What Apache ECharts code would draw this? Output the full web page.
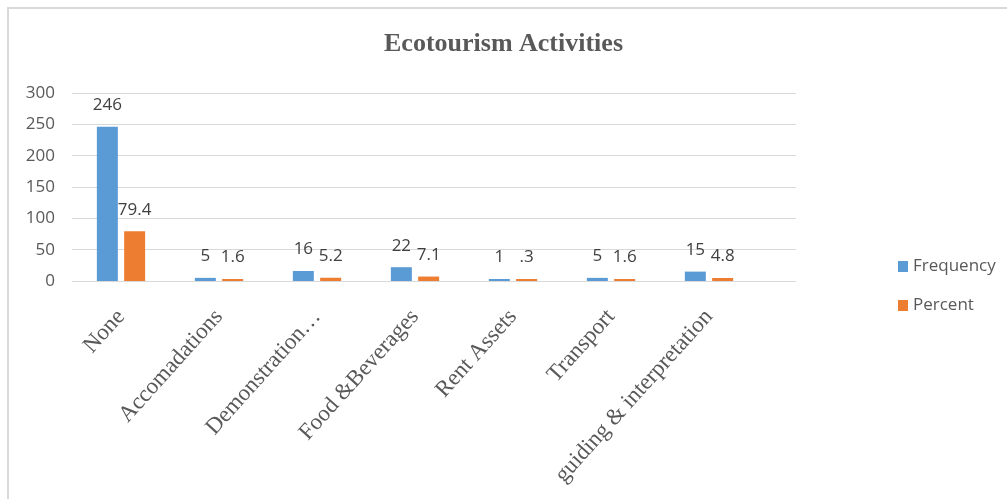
<!DOCTYPE html>
<html>
<head>
<meta charset="utf-8">
<style>
  html, body { margin: 0; padding: 0; background: #fff; }
  #chart { width: 1007px; height: 499px; }
</style>
<script src="https://cdn.jsdelivr.net/npm/echarts@6/dist/echarts.min.js"></script>
</head>
<body>
<div id="chart"></div>
<script>
const categories = ['None', 'Accomadations', 'Demonstration…', 'Food &Beverages', 'Rent Assets', 'Transport', 'guiding & interpretation'];
const frequency = [246, 5, 16, 22, 1, 5, 15];
const percent = [79.4, 1.6, 5.2, 7.1, 0.3, 1.6, 4.8];
const percentLabels = ['79.4', '1.6', '5.2', '7.1', '.3', '1.6', '4.8'];
const yTicks = { min: 0, max: 300, interval: 50 };

(function () {
  const chart = echarts.init(document.getElementById('chart'));
  const sans = "'Open Sans', sans-serif";
  const serif = "'Liberation Serif', 'Times New Roman', serif";

  const labelStyle = {
    show: true,
    position: 'top',
    distance: 13,
    color: '#404040',
    fontSize: 17,
    fontFamily: sans
  };

  chart.setOption({
    animation: false,
    title: {
      text: 'Ecotourism Activities',
      left: 'center',
      top: 26,
      textStyle: { fontFamily: serif, fontWeight: 'bold', fontSize: 26, color: '#595959' }
    },
    legend: {
      orient: 'vertical',
      left: 893,
      top: 253,
      itemWidth: 10,
      itemHeight: 11,
      itemGap: 22,
      icon: 'rect',
      textStyle: { fontFamily: sans, fontSize: 17, color: '#595959' },
      data: ['Frequency', 'Percent']
    },
    graphic: [
      {
        type: 'rect',
        shape: { x: 8, y: 8, width: 1100, height: 600 },
        style: { fill: 'none', stroke: '#d9d9d9', lineWidth: 2 },
        silent: true
      }
    ],
    grid: [
      { left: 72, top: 93, width: 686, height: 188 },
      { left: 72, top: 93, width: 724, height: 188 }
    ],
    xAxis: [
      {
        type: 'category',
        gridIndex: 0,
        data: categories,
        axisLine: { show: false },
        axisTick: { show: false },
        axisLabel: {
          interval: 0,
          rotate: 48,
          margin: 32,
          fontFamily: serif,
          fontSize: 23,
          color: '#595959'
        }
      },
      {
        type: 'category',
        gridIndex: 1,
        data: [''],
        show: false
      }
    ],
    yAxis: [
      {
        type: 'value',
        gridIndex: 0,
        min: yTicks.min,
        max: yTicks.max,
        interval: yTicks.interval,
        show: false
      },
      {
        type: 'value',
        gridIndex: 1,
        min: yTicks.min,
        max: yTicks.max,
        interval: yTicks.interval,
        axisLine: { show: false },
        axisTick: { show: false },
        splitLine: { lineStyle: { color: '#d9d9d9', width: 1 } },
        axisLabel: { margin: 17, fontFamily: sans, fontSize: 17, color: '#595959' }
      }
    ],
    series: [
      {
        name: 'Frequency',
        type: 'bar',
        xAxisIndex: 0,
        yAxisIndex: 0,
        barWidth: 21,
        barGap: '30%',
        barMinHeight: 2,
        itemStyle: { color: '#5b9bd5' },
        label: labelStyle,
        data: frequency
      },
      {
        name: 'Percent',
        type: 'bar',
        xAxisIndex: 0,
        yAxisIndex: 0,
        barWidth: 21,
        barGap: '30%',
        barMinHeight: 2,
        itemStyle: { color: '#ed7d31' },
        label: Object.assign({}, labelStyle, {
          formatter: (p) => percentLabels[p.dataIndex]
        }),
        data: percent
      }
    ]
  });
})();
</script>
</body>
</html>
